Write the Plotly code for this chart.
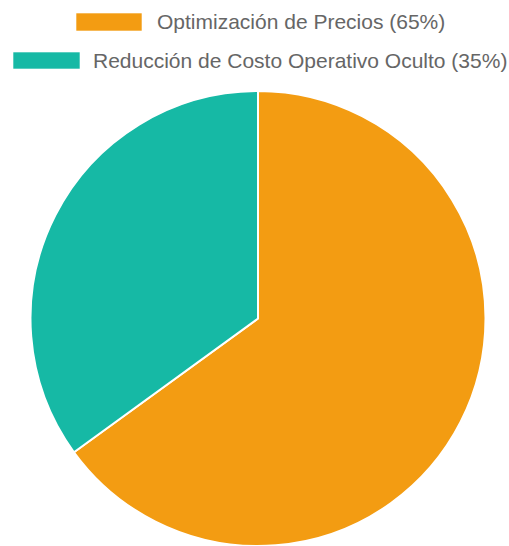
import plotly.graph_objects as go

labels = ["Optimización de Precios (65%)", "Reducción de Costo Operativo Oculto (35%)"]
values = [65, 35]
colors = ["#F39C12", "#16B9A5"]

W, H = 509, 546

fig = go.Figure(go.Pie(
    labels=labels, values=values, sort=False, direction="clockwise", rotation=0,
    marker=dict(colors=colors, line=dict(color="white", width=2)),
    textinfo="none", hoverinfo="label+value",
    domain=dict(x=[30 / W, 486 / W], y=[0, 1 - 91 / H]),
    showlegend=False,
))

# custom Chart.js-style legend (wide boxes)
legend_rows = [
    dict(box=(76, 142), y=(13, 31), text_x=155),
    dict(box=(13, 80), y=(52, 69), text_x=91),
]
for lab, col, row in zip(labels, colors, legend_rows):
    x0, x1 = row["box"]
    y0, y1 = row["y"]
    fig.add_shape(type="rect", xref="paper", yref="paper",
                  x0=x0 / W, x1=x1 / W, y0=1 - y1 / H, y1=1 - y0 / H,
                  fillcolor=col, line=dict(color="rgba(255,255,255,0.6)", width=1))
    fig.add_annotation(x=row["text_x"] / W, y=1 - (y0 + y1) / 2 / H, xref="paper", yref="paper",
                       text=lab, showarrow=False, xanchor="left", yanchor="middle",
                       font=dict(family="Liberation Sans, Arial, sans-serif", size=21, color="#666666"))

fig.update_layout(width=W, height=H, margin=dict(l=0, r=0, t=0, b=0),
                  paper_bgcolor="white", plot_bgcolor="white")
fig.write_html("out.html")
